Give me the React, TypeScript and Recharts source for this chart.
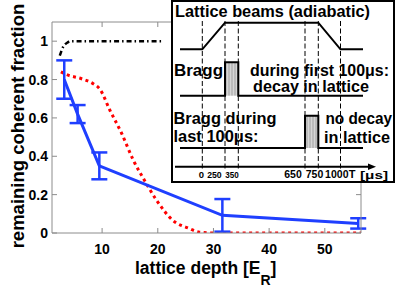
import React from "react";
import { ComposedChart, Line, XAxis, YAxis, ErrorBar } from "recharts";

// measured points (lattice depth in E_R, remaining coherent fraction)
const measuredX = [3.2, 5.6, 9.5, 31.6, 56.0];
const measuredY = [0.8, 0.62, 0.35, 0.092, 0.05];
const measuredErr = [0.1, 0.047, 0.07, 0.085, 0.027];

// theory curves (red dotted, black dash-dot)
const redX = [2.6, 3.6, 6.3, 8.4, 9.6, 11.4, 13.5, 15.6, 17.7, 19.8, 22.7, 25.7, 27.5, 30, 40, 50, 56.5];
const redY = [0.84, 0.826, 0.804, 0.778, 0.75, 0.64, 0.52, 0.38, 0.27, 0.17, 0.066, 0.023, 0.004, 0, 0, 0, 0];
const blackX = [2.4, 3.0, 3.9, 4.2, 8, 14, 21];
const blackY = [0.925, 0.97, 0.995, 1.0, 1.0, 1.0, 1.0];

const xTicks = [10, 20, 30, 40, 50];
const yTicks = [0, 0.2, 0.4, 0.6, 0.8, 1];
const yTickLabels = ["0", "0.2", "0.4", "0.6", "0.8", "1"];

const measured = measuredX.map((x, i) => ({ x, y: measuredY[i], err: measuredErr[i] }));
const red = redX.map((x, i) => ({ x, y: redY[i] }));
const black = blackX.map((x, i) => ({ x, y: blackY[i] }));

const FONT = "'Liberation Sans', Arial, Helvetica, sans-serif";
const AXIS = "#8c8c8c";
const BLUE = "#1f3fff";

const XTick = (props: any) => {
  const { x, y, payload } = props;
  return (
    <text x={x} y={y} dy={16} textAnchor="middle" fontFamily={FONT} fontWeight="bold" fontSize={14} fill="#000">
      {payload.value}
    </text>
  );
};

const YTick = (props: any) => {
  const { x, y, payload } = props;
  const idx = yTicks.indexOf(payload.value);
  return (
    <text x={x} y={y} dy="0.36em" textAnchor="end" fontFamily={FONT} fontWeight="bold" fontSize={14} fill="#000">
      {idx >= 0 ? yTickLabels[idx] : payload.value}
    </text>
  );
};

const Empty = () => <g />;

const Inset = () => {
  const dashXs = [202.3, 225, 238.3, 305, 318.3, 340.5];
  const tf = { fontFamily: FONT, fontWeight: "bold" as const, fill: "#000" };
  return (
    <svg width={399} height={291} style={{ position: "absolute", left: 0, top: 0, pointerEvents: "none" }}>
      <defs>
        <pattern id="hatch" width="3" height="3" patternUnits="userSpaceOnUse">
          <rect width="3" height="3" fill="#d6d6d6" />
          <line x1="1" y1="0" x2="1" y2="3" stroke="#a0a0a0" strokeWidth="1" />
        </pattern>
      </defs>
      <rect x={172} y={1} width={222} height={181} fill="#fff" stroke="#000" strokeWidth={2} />
      {dashXs.map((x) => (
        <line key={x} x1={x} y1={21} x2={x} y2={171} stroke="#000" strokeWidth={1} strokeDasharray="5 2.5" />
      ))}
      {/* lattice trace */}
      <polyline points="180,49.3 202.3,49.3 225,22.7 318.3,22.7 340.5,49.3 363,49.3" fill="none" stroke="#000" strokeWidth={2} />
      {/* bragg 1 */}
      <rect x={225} y={62.3} width={13.3} height={33.4} fill="url(#hatch)" />
      <polyline points="180,95.7 225,95.7 225,62.3 238.3,62.3 238.3,95.7 363,95.7" fill="none" stroke="#000" strokeWidth={2} />
      {/* bragg 2 */}
      <rect x={305} y={115.7} width={13.3} height={32.3} fill="url(#hatch)" />
      <polyline points="180,148 305,148 305,115.7 318.3,115.7 318.3,148 363,148" fill="none" stroke="#000" strokeWidth={2} />
      {/* time axis */}
      <line x1={175} y1={166.7} x2={370} y2={166.7} stroke="#000" strokeWidth={2} />
      <polygon points="376,166.7 368,163.5 368,169.9" fill="#000" />

      <text x={175} y={17} fontSize={16.5} textLength={195} lengthAdjust="spacingAndGlyphs" {...tf}>Lattice beams (adiabatic)</text>
      <text x={174} y={76} fontSize={16} textLength={49} lengthAdjust="spacingAndGlyphs" {...tf}>Bragg</text>
      <text x={250} y={76} fontSize={16} textLength={139} lengthAdjust="spacingAndGlyphs" {...tf}>during first 100μs:</text>
      <text x={253} y={91.5} fontSize={16} textLength={116} lengthAdjust="spacingAndGlyphs" {...tf}>decay in lattice</text>
      <text x={173.5} y={123.5} fontSize={16} textLength={103} lengthAdjust="spacingAndGlyphs" {...tf}>Bragg during</text>
      <text x={173.5} y={142} fontSize={16} textLength={85} lengthAdjust="spacingAndGlyphs" {...tf}>last 100μs:</text>
      <text x={325.5} y={123.5} fontSize={16} textLength={66.5} lengthAdjust="spacingAndGlyphs" {...tf}>no decay</text>
      <text x={324} y={142.5} fontSize={16} textLength={66} lengthAdjust="spacingAndGlyphs" {...tf}>in lattice</text>

      <text x={201.3} y={178} fontSize={9.5} textAnchor="middle" {...tf}>0</text>
      <text x={214.4} y={178} fontSize={9.5} textAnchor="middle" textLength={14.5} lengthAdjust="spacingAndGlyphs" {...tf}>250</text>
      <text x={232} y={178} fontSize={9.5} textAnchor="middle" textLength={13.5} lengthAdjust="spacingAndGlyphs" {...tf}>350</text>
      <text x={293} y={178} fontSize={10.5} textAnchor="middle" {...tf}>650</text>
      <text x={314.5} y={178} fontSize={10.5} textAnchor="middle" {...tf}>750</text>
      <text x={336.8} y={178} fontSize={10.5} textAnchor="middle" {...tf}>1000</text>
      <text x={352} y={178} fontSize={11} textAnchor="middle" {...tf}>T</text>
      <text x={374} y={179} fontSize={11} textAnchor="middle" textLength={28} lengthAdjust="spacingAndGlyphs" {...tf}>[μs]</text>

      {/* axis titles */}
      <text x={135} y={274} fontSize={17.5} {...tf}>
        lattice depth [E
        <tspan fontSize={14} dy={11}>R</tspan>
        <tspan fontSize={17.5} dy={-11}>]</tspan>
      </text>
      <text x={24} y={126} fontSize={18.5} textAnchor="middle" transform="rotate(-90 24 126)" {...tf}>remaining coherent fraction</text>
    </svg>
  );
};

export default function App() {
  return (
    <div style={{ position: "absolute", left: 0, top: 0, width: 399, height: 291, background: "#fff" }}>
      <ComposedChart width={399} height={291} margin={{ top: 20, right: 36, bottom: 0, left: 0 }}>
        <XAxis
          xAxisId="b"
          dataKey="x"
          type="number"
          domain={[1, 56.5]}
          ticks={xTicks}
          orientation="bottom"
          height={58}
          stroke={AXIS}
          tickSize={-5}
          tickMargin={10}
          tick={<XTick />}
          allowDataOverflow
        />
        <XAxis
          xAxisId="t"
          dataKey="x"
          type="number"
          domain={[1, 56.5]}
          ticks={xTicks}
          orientation="top"
          height={2}
          stroke={AXIS}
          tickSize={-5}
          tick={<Empty />}
          allowDataOverflow
        />
        <YAxis
          yAxisId="l"
          type="number"
          domain={[0, 1.1]}
          ticks={yTicks}
          orientation="left"
          width={52}
          stroke={AXIS}
          tickSize={-5}
          tickMargin={9}
          tick={<YTick />}
          allowDataOverflow
        />
        <YAxis
          yAxisId="r"
          type="number"
          domain={[0, 1.1]}
          ticks={yTicks}
          orientation="right"
          width={2}
          stroke={AXIS}
          tickSize={-5}
          tick={<Empty />}
          allowDataOverflow
        />
        <Line
          xAxisId="b"
          yAxisId="l"
          data={black}
          dataKey="y"
          type="monotone"
          stroke="#000"
          strokeWidth={2.5}
          strokeDasharray="5 3 1.5 3"
          dot={false}
          isAnimationActive={false}
        />
        <Line
          xAxisId="b"
          yAxisId="l"
          data={red}
          dataKey="y"
          type="monotone"
          stroke="#ff0000"
          strokeWidth={3}
          strokeDasharray="3 3.5"
          dot={false}
          isAnimationActive={false}
        />
        <Line
          xAxisId="b"
          yAxisId="l"
          data={measured}
          dataKey="y"
          type="linear"
          stroke={BLUE}
          strokeWidth={3}
          dot={false}
          isAnimationActive={false}
        >
          <ErrorBar dataKey="err" width={8} stroke={BLUE} strokeWidth={2.5} direction="y" />
        </Line>
      </ComposedChart>
      <Inset />
    </div>
  );
}
